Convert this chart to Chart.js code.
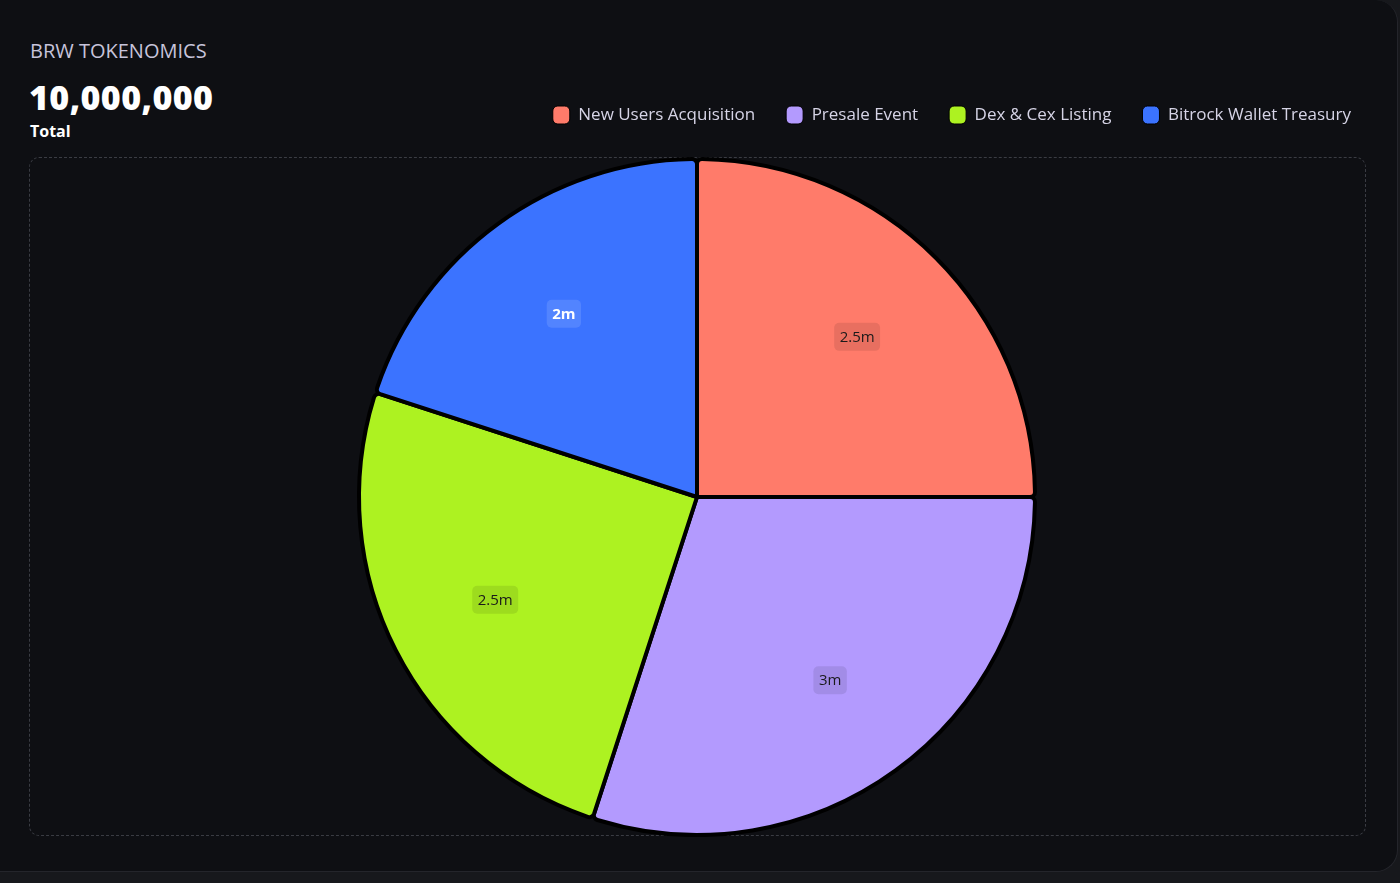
<!DOCTYPE html>
<html>
<head>
<meta charset="utf-8">
<script src="https://cdn.jsdelivr.net/npm/chart.js@4.4.1/dist/chart.umd.min.js"></script>
<style>
  html, body { margin: 0; padding: 0; }
  body { width: 1400px; height: 883px; background: #17181c; position: relative; overflow: hidden; font-family: "Open Sans", "Noto Sans", sans-serif; }
  .card { position: absolute; left: 0; top: 0; width: 1397px; height: 871px; background: #0e0f13; border: 1px solid #24252b; border-top: none; border-left: none; border-radius: 0 22px 22px 0; }
  .title { position: absolute; left: 30px; top: 37px; font-size: 20px; color: #c7c4db; letter-spacing: 0px; }
  .total { position: absolute; left: 29px; top: 74px; font-size: 34px; font-weight: 800; color: #ffffff; letter-spacing: 0.4px; }
  .totlab { position: absolute; left: 30px; top: 120px; font-size: 16px; font-weight: 700; color: #ffffff; }
  .dash { position: absolute; left: 29px; top: 157px; width: 1337px; height: 679px; border: 1px dashed #3a3c43; border-radius: 10px; box-sizing: border-box; }
  .wrap { position: absolute; left: 29px; top: 72px; width: 1336px; height: 765px; }
</style>
</head>
<body>
<div class="card"></div>
<div class="title">BRW TOKENOMICS</div>
<div class="total">10,000,000</div>
<div class="totlab">Total</div>
<div class="dash"></div>
<div class="wrap"><canvas id="c"></canvas></div>
<script>
const categories = ["New Users Acquisition", "Presale Event", "Dex & Cex Listing", "Bitrock Wallet Treasury"];
const values = [2.5, 3, 2.5, 2];
const valueLabels = ["2.5m", "3m", "2.5m", "2m"];
const colors = ["#ff7b6a", "#b39afe", "#adf221", "#3b73ff"];
const labelTextColors = ["#1a1a1a", "#1a1a1a", "#1a1a1a", "#ffffff"];
const labelBgColors = ["rgba(0,0,0,0.09)", "rgba(0,0,0,0.09)", "rgba(0,0,0,0.09)", "rgba(255,255,255,0.12)"];
const labelBold = [false, false, false, true];

const legendTweak = {
  id: 'legendTweak',
  beforeInit(chart) {
    const lg = chart.legend;
    const fit = lg.fit;
    lg.fit = function () { fit.call(this); this.height = 85; };
    const draw = lg.draw;
    lg.draw = function () {
      const ctx = this.ctx;
      ctx.save();
      ctx.translate(17, 3);
      draw.call(this);
      ctx.restore();
    };
  }
};

const sliceLabels = {
  id: 'sliceLabels',
  afterDatasetsDraw(chart) {
    const ctx = chart.ctx;
    const meta = chart.getDatasetMeta(0);
    meta.data.forEach((arc, i) => {
      const p = arc.getProps(['x', 'y', 'startAngle', 'endAngle', 'outerRadius'], true);
      const mid = (p.startAngle + p.endAngle) / 2;
      const r = p.outerRadius * 0.67;
      const x = p.x + Math.cos(mid) * r;
      const y = p.y + Math.sin(mid) * r;
      ctx.save();
      ctx.font = (labelBold[i] ? '700 ' : '400 ') + '15px "Open Sans", sans-serif';
      const t = valueLabels[i];
      const w = ctx.measureText(t).width + 11;
      const h = 28;
      ctx.fillStyle = labelBgColors[i];
      ctx.beginPath();
      ctx.roundRect(x - w / 2, y - h / 2, w, h, 5);
      ctx.fill();
      ctx.fillStyle = labelTextColors[i];
      ctx.textAlign = 'center';
      ctx.textBaseline = 'middle';
      ctx.fillText(t, x, y + 1);
      ctx.restore();
    });
  }
};

const defaultLabels = Chart.controllers.pie.overrides.plugins.legend.labels.generateLabels;

new Chart(document.getElementById('c'), {
  type: 'pie',
  data: {
    labels: categories,
    datasets: [{
      data: values,
      backgroundColor: colors,
      borderColor: '#000000',
      borderWidth: 4,
      borderRadius: 5,
      hoverOffset: 0
    }]
  },
  options: {
    responsive: true,
    maintainAspectRatio: false,
    animation: false,
    layout: { padding: { left: 0, right: 0, top: 0, bottom: 0 } },
    plugins: {
      tooltip: { enabled: false },
      legend: {
        position: 'top',
        align: 'end',
        labels: {
          color: '#d6d4e6',
          font: { family: '"Open Sans", sans-serif', size: 17 },
          boxWidth: 17,
          boxHeight: 18,
          useBorderRadius: true,
          borderRadius: 5,
          padding: 31,
          generateLabels(chart) {
            return defaultLabels(chart).map(l => Object.assign(l, { lineWidth: 1, strokeStyle: '#000000' }));
          }
        }
      }
    }
  },
  plugins: [legendTweak, sliceLabels]
});
</script>
</body>
</html>
